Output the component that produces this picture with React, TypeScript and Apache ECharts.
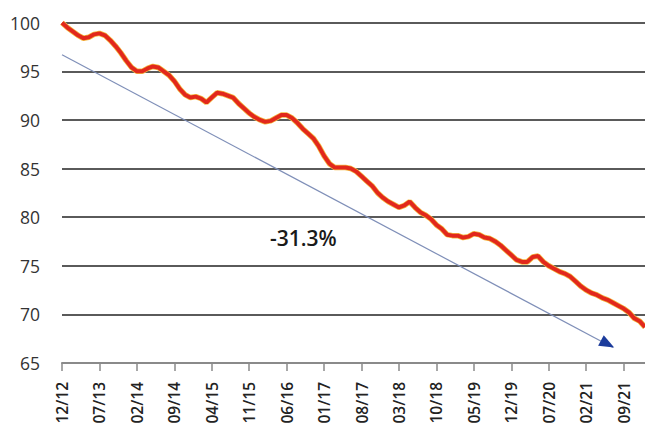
import React, { useEffect, useRef } from "react";
import * as echarts from "echarts";

// Monthly labels MM/YY from 12/12 through 01/22
const monthLabels: string[] = [];
for (let i = 0; i < 110; i++) {
  const m = ((11 + i) % 12) + 1;
  const y = 12 + Math.floor((11 + i) / 12);
  monthLabels.push(`${String(m).padStart(2, "0")}/${String(y).padStart(2, "0")}`);
}

// Index level, 12/12 = 100
const indexValues: number[] = [
  100, 99.5, 99.1, 98.7, 98.4, 98.5, 98.8, 98.9, 98.7, 98.2,
  97.6, 96.9, 96.1, 95.4, 95.0, 95.0, 95.3, 95.5, 95.4, 95.0,
  94.6, 94.0, 93.2, 92.6, 92.3, 92.4, 92.2, 91.8, 92.3, 92.8,
  92.7, 92.5, 92.3, 91.7, 91.2, 90.7, 90.3, 90.0, 89.8, 89.9,
  90.2, 90.5, 90.5, 90.2, 89.7, 89.1, 88.6, 88.1, 87.3, 86.3,
  85.5, 85.1, 85.1, 85.1, 85.0, 84.7, 84.2, 83.7, 83.2, 82.5,
  82.0, 81.6, 81.3, 81.0, 81.2, 81.6, 81.0, 80.5, 80.2, 79.8,
  79.2, 78.8, 78.2, 78.1, 78.1, 77.9, 78.0, 78.3, 78.2, 77.9,
  77.8, 77.5, 77.1, 76.6, 76.1, 75.6, 75.4, 75.4, 75.9, 76.0,
  75.4, 75.0, 74.7, 74.4, 74.2, 73.9, 73.4, 72.9, 72.5, 72.2,
  72.0, 71.7, 71.5, 71.2, 70.9, 70.6, 70.2, 69.6, 69.3, 68.7,
];

// Trend arrow: [category index, value] start and end
const trendStart: [number, number] = [0, 96.7];
const trendEnd: [number, number] = [102.7, 66.6];
const trendLabel = "-31.3%";

const yMin = 65;
const yMax = 100;
const yStep = 5;

export default function App() {
  const ref = useRef<HTMLDivElement>(null);

  useEffect(() => {
    if (!ref.current) return;
    const chart = echarts.init(ref.current, undefined, { renderer: "svg" });
    chart.setOption({
      animation: false,
      backgroundColor: "#ffffff",
      grid: { left: 62, right: 0, top: 22.7, bottom: 73, containLabel: false },
      xAxis: {
        type: "category",
        data: monthLabels,
        boundaryGap: false,
        axisLine: { lineStyle: { color: "#8a8a8a", width: 2 } },
        axisTick: {
          interval: 6,
          length: 8,
          lineStyle: { color: "#8a8a8a", width: 1.5 },
        },
        axisLabel: {
          interval: 6,
          rotate: 90,
          margin: 19,
          color: "#222",
          fontFamily: "Open Sans",
          fontWeight: 600,
          fontSize: 15.5,
        },
        splitLine: { show: false },
      },
      yAxis: {
        type: "value",
        min: yMin,
        max: yMax,
        interval: yStep,
        axisLine: { show: false },
        axisTick: { show: false },
        axisLabel: {
          margin: 22,
          color: "#333",
          fontFamily: "Open Sans",
          fontSize: 17.5,
        },
        splitLine: { lineStyle: { color: "#5a5a5a", width: 1.8 } },
      },
      series: [
        {
          type: "line",
          data: indexValues,
          showSymbol: false,
          lineStyle: { color: "#f4b840", width: 5.5 },
          z: 3,
          markLine: {
            silent: true,
            symbol: ["none", "none"],
            label: { show: false },
            lineStyle: { color: "#7f8fb8", width: 1.2, type: "solid" },
            data: [[{ coord: trendStart }, { coord: trendEnd }]],
          },
          markPoint: {
            silent: true,
            symbol: "triangle",
            symbolSize: [12, 15],
            symbolRotate: -118,
            itemStyle: { color: "#1c3c9c" },
            label: { show: false },
            data: [{ coord: [trendEnd[0] - 0.6, trendEnd[1] + 0.35] }],
          },
        },
        {
          type: "line",
          data: indexValues,
          showSymbol: false,
          lineStyle: { color: "#e2281c", width: 4 },
          z: 4,
        },
      ],
      graphic: [
        {
          type: "text",
          left: 270,
          top: 227,
          style: {
            text: trendLabel,
            fontFamily: "Open Sans",
            fontWeight: 600,
            fontSize: 21,
            fill: "#1a1a1a",
          },
        },
      ],
    });
    return () => chart.dispose();
  }, []);

  return (
    <div
      ref={ref}
      style={{ position: "absolute", left: 0, top: 0, width: 645, height: 436 }}
    />
  );
}
